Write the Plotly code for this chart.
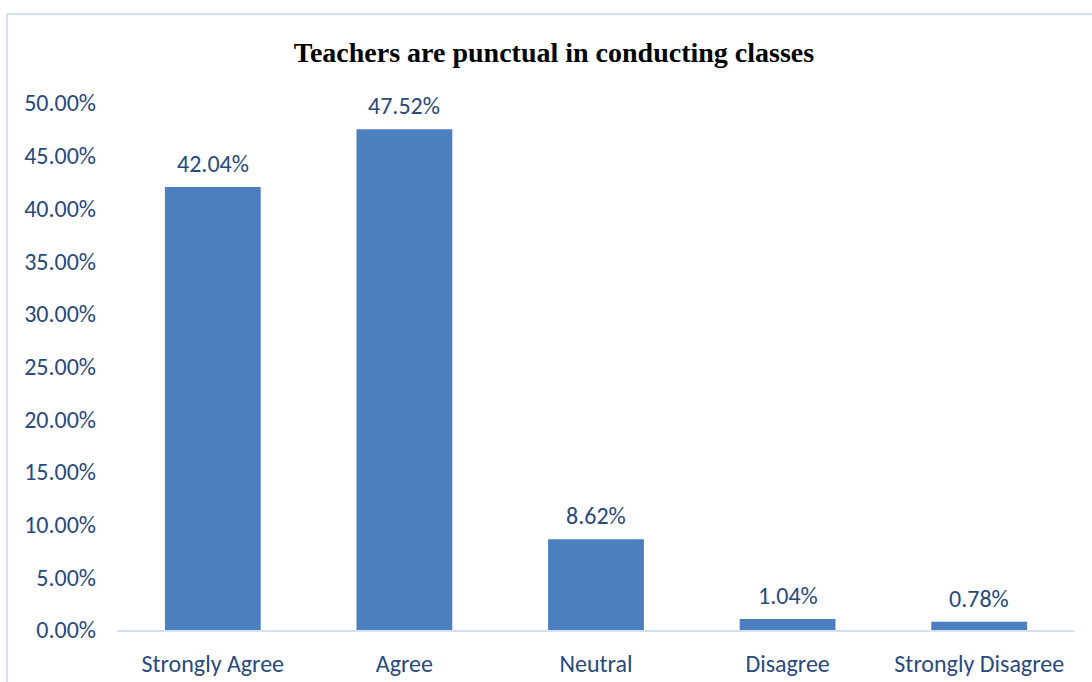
import plotly.graph_objects as go

categories = ["Strongly Agree", "Agree", "Neutral", "Disagree", "Strongly Disagree"]
values = [0.4204, 0.4752, 0.0862, 0.0104, 0.0078]
value_labels = ["42.04%", "47.52%", "8.62%", "1.04%", "0.78%"]
title_text = "Teachers are punctual in conducting classes"

FONT = "Calibri, Carlito, Lato, sans-serif"
TXT = "#284a7e"
FS = 24

fig = go.Figure()
fig.add_trace(go.Bar(
    x=categories, y=values,
    marker=dict(color="#4b7fc0", line=dict(width=0)),
    hoverinfo="skip",
))

for c, v, lab in zip(categories, values, value_labels):
    fig.add_annotation(x=c, y=v, text=lab, showarrow=False,
                       yanchor="bottom", yshift=7,
                       font=dict(family=FONT, size=FS, color=TXT))

L, R, T, B = 117, 17, 103, 52
W, H = 1092, 682
pw = W - L - R
ph = H - T - B

def px_x(p):
    return (p - L) / pw

def px_y(p):
    return (H - B - p) / ph

fig.add_shape(type="rect", xref="paper", yref="paper",
              x0=px_x(7), x1=px_x(1110), y0=px_y(700), y1=px_y(14),
              line=dict(color="#d5e1f2", width=2), fillcolor="rgba(0,0,0,0)",
              layer="below")

fig.update_layout(
    width=W, height=H,
    margin=dict(l=L, r=R, t=T, b=B, autoexpand=False),
    paper_bgcolor="white", plot_bgcolor="white",
    bargap=0.5,
    showlegend=False,
    title=dict(text=f"<b>{title_text}</b>", x=554 / W, xanchor="center",
               y=1 - 52 / H, yanchor="middle", yref="container",
               font=dict(family="'Times New Roman', 'Liberation Serif', serif", size=28, color="black")),
    xaxis=dict(showline=True, linecolor="#d6e0f0", linewidth=2, showgrid=False,
               ticks="", tickfont=dict(family=FONT, size=FS, color=TXT),
               ticklabelstandoff=11, automargin=False, fixedrange=True),
    yaxis=dict(range=[0, 0.5], dtick=0.05, tickformat=".2%", showgrid=False,
               zeroline=False, showline=False, ticks="",
               tickfont=dict(family=FONT, size=FS, color=TXT),
               ticklabelstandoff=20, automargin=False, fixedrange=True),
)

fig.write_html("out.html", config={"displayModeBar": False},
               post_script="document.body.style.margin='0';document.body.style.overflow='hidden';")
